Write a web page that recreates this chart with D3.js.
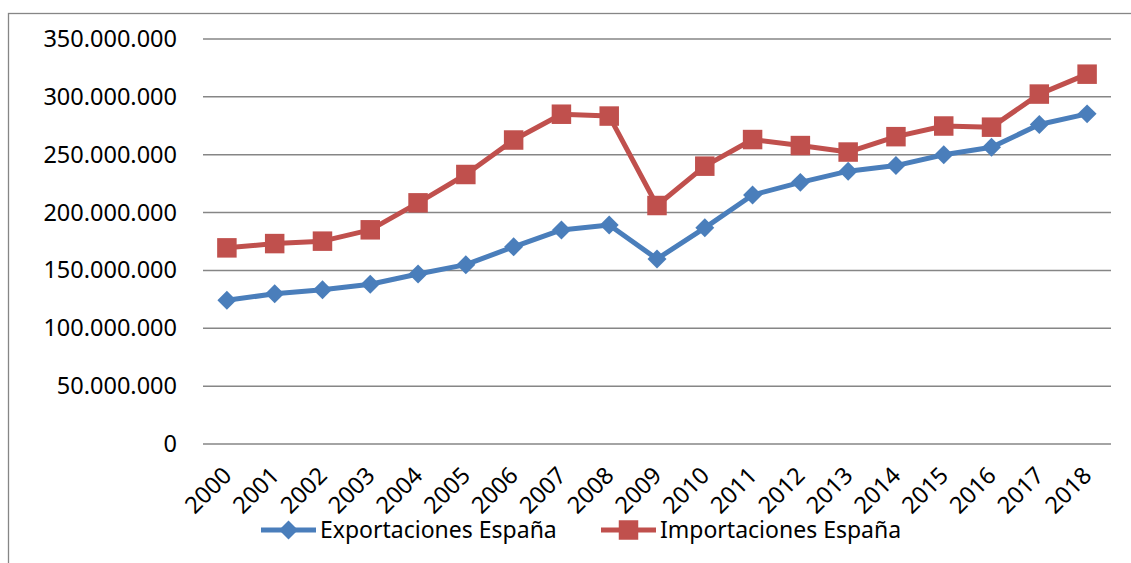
<!DOCTYPE html>
<html>
<head>
<meta charset="utf-8">
<script src="https://cdn.jsdelivr.net/npm/d3@7"></script>
<style>
  body { margin: 0; background: #fff; }
  text { font-family: "Noto Sans", "DejaVu Sans", sans-serif; fill: #000; }
</style>
</head>
<body>
<div id="chart-area"></div>
<script>
// Data
var years = ["2000","2001","2002","2003","2004","2005","2006","2007","2008","2009",
             "2010","2011","2012","2013","2014","2015","2016","2017","2018"];
var exportaciones = [124200000, 129800000, 133300000, 138100000, 146900000, 155000000,
                     170400000, 185000000, 189200000, 159900000, 186800000, 215200000,
                     226100000, 235800000, 240600000, 250000000, 256400000, 276100000, 285300000];
var importaciones = [169500000, 173200000, 175300000, 185100000, 208400000, 232900000,
                     262700000, 285000000, 283400000, 206100000, 240100000, 263100000,
                     257900000, 252300000, 265600000, 274800000, 273800000, 302400000, 319600000];
var yTicks = [0, 50000000, 100000000, 150000000, 200000000, 250000000, 300000000, 350000000];
var seriesNames = ["Exportaciones España", "Importaciones España"];

var width = 1131, height = 563;
var plot = { left: 203, right: 1111, top: 39, bottom: 444 };

var svg = d3.select("#chart-area")
    .append("svg")
    .attr("width", width)
    .attr("height", height);

// outer chart border
svg.append("rect")
    .attr("x", 8.5)
    .attr("y", 13.5)
    .attr("width", 1140)
    .attr("height", 600)
    .attr("fill", "none")
    .attr("stroke", "#868686")
    .attr("stroke-width", 1.3);

// Scales
var x = d3.scaleBand().domain(years).range([plot.left, plot.right]);
var y = d3.scaleLinear().domain([0, 350000000]).range([plot.bottom, plot.top]);

var fmt = function(v) {
    return d3.format(",")(v).replace(/,/g, ".");
};

// gridlines
svg.append("g")
    .selectAll("line")
    .data(yTicks)
    .enter().append("line")
    .attr("x1", plot.left)
    .attr("x2", plot.right)
    .attr("y1", function(d) { return y(d); })
    .attr("y2", function(d) { return y(d); })
    .attr("stroke", "#868686")
    .attr("stroke-width", 1.5);

// Y axis labels
var yAxisCall = d3.axisLeft(y)
    .tickValues(yTicks)
    .tickSize(0)
    .tickPadding(26)
    .tickFormat(fmt);
var yAxis = svg.append("g")
    .attr("transform", "translate(" + plot.left + ",0)")
    .call(yAxisCall);
yAxis.select(".domain").remove();
yAxis.selectAll("text")
    .attr("font-size", "23.5px")
    .attr("font-family", "Noto Sans")
    .attr("fill", "#000");

// X axis labels (rotated)
svg.append("g")
    .selectAll("text")
    .data(years)
    .enter().append("text")
    .attr("transform", function(d) {
        return "translate(" + (x(d) + x.bandwidth() / 2 + 6) + ",477) rotate(-45)";
    })
    .attr("text-anchor", "end")
    .attr("font-size", "23.5px")
    .text(function(d) { return d; });

var line = d3.line()
    .x(function(d, i) { return x(years[i]) + x.bandwidth() / 2; })
    .y(function(d) { return y(d); });

var blue = "#4A7EBB", red = "#C0504D";

// Exportaciones
svg.append("path")
    .datum(exportaciones)
    .attr("d", line)
    .attr("fill", "none")
    .attr("stroke", blue)
    .attr("stroke-width", 5)
    .attr("stroke-linejoin", "round");

// Importaciones
svg.append("path")
    .datum(importaciones)
    .attr("d", line)
    .attr("fill", "none")
    .attr("stroke", red)
    .attr("stroke-width", 5)
    .attr("stroke-linejoin", "round");

var diamond = d3.symbol().type(d3.symbolSquare).size(180);
var square = d3.symbol().type(d3.symbolSquare).size(380);

svg.append("g")
    .selectAll("path")
    .data(exportaciones)
    .enter().append("path")
    .attr("d", diamond)
    .attr("transform", function(d, i) {
        return "translate(" + (x(years[i]) + x.bandwidth() / 2) + "," + y(d) + ") rotate(45)";
    })
    .attr("fill", blue);

svg.append("g")
    .selectAll("path")
    .data(importaciones)
    .enter().append("path")
    .attr("d", square)
    .attr("transform", function(d, i) {
        return "translate(" + (x(years[i]) + x.bandwidth() / 2) + "," + y(d) + ")";
    })
    .attr("fill", red);

// Legend
var legend = [
    { name: seriesNames[0], color: blue, x: 261, sym: diamond, rot: 45 },
    { name: seriesNames[1], color: red, x: 601, sym: square, rot: 0 }
];
var lg = svg.append("g").selectAll("g")
    .data(legend)
    .enter().append("g")
    .attr("transform", function(d) { return "translate(" + d.x + ",530)"; });
lg.append("line")
    .attr("x1", 0).attr("x2", 55)
    .attr("stroke", function(d) { return d.color; })
    .attr("stroke-width", 5);
lg.append("path")
    .attr("d", function(d) { return d.sym(); })
    .attr("transform", function(d) { return "translate(27.5,0) rotate(" + d.rot + ")"; })
    .attr("fill", function(d) { return d.color; });
lg.append("text")
    .attr("x", 59)
    .attr("y", 8)
    .attr("font-size", "23px")
    .text(function(d) { return d.name; });
</script>
</body>
</html>
